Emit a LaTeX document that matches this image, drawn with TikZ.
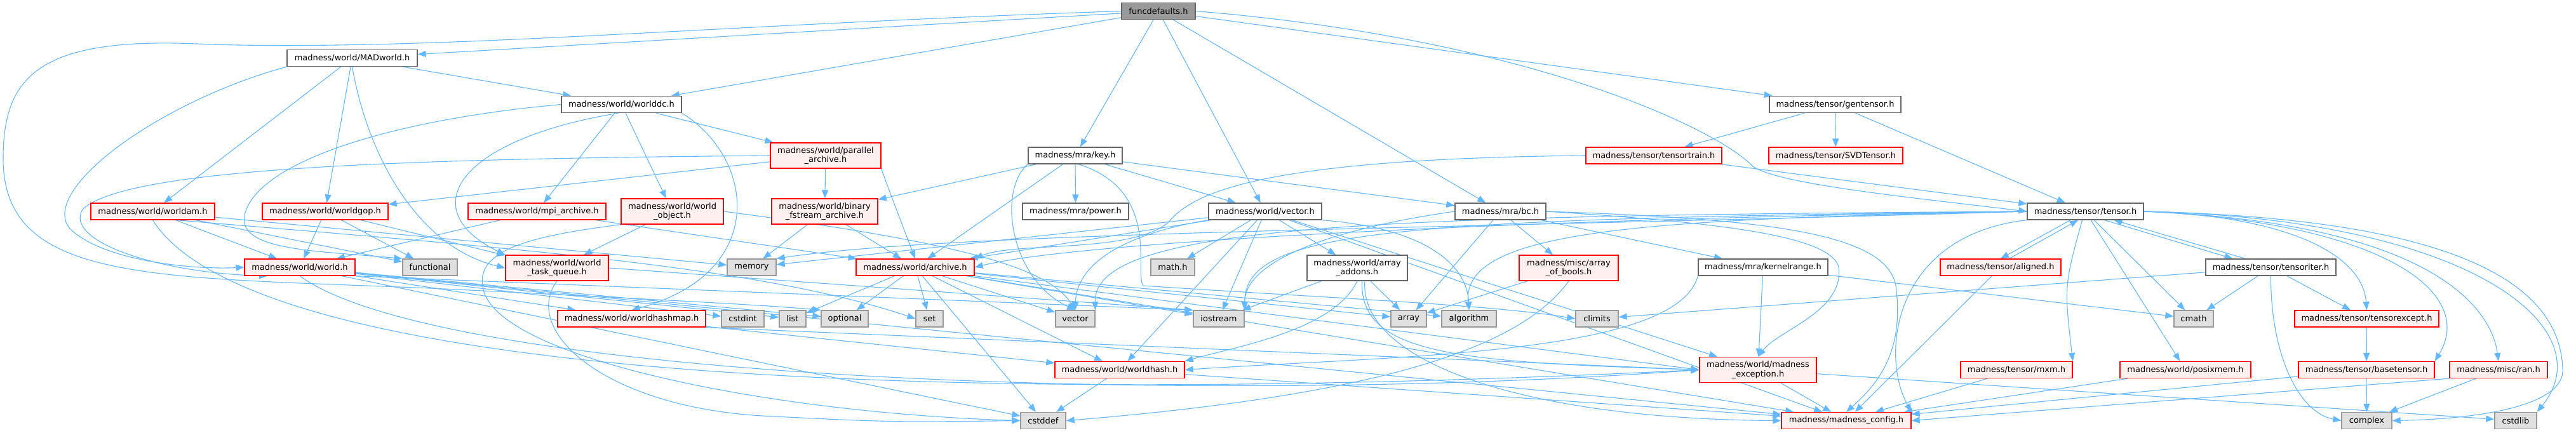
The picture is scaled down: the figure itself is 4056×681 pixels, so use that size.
\documentclass[tikz,border=0pt]{standalone}
\usepackage{fontspec}
\setmainfont{DejaVu Sans}
\usepackage{tikz}
\usetikzlibrary{arrows.meta,backgrounds}
\definecolor{EdgeBlue}{HTML}{63B8FF}
\definecolor{CurFill}{HTML}{999999}
\definecolor{CurLine}{HTML}{666666}
\definecolor{SysFill}{HTML}{E0E0E0}
\definecolor{SysLine}{HTML}{999999}
\definecolor{TruncFill}{HTML}{FFF0F0}
\definecolor{TruncLine}{HTML}{FF0000}

\begin{document}
\begin{tikzpicture}[x=1pt, y=-1pt,
  box/.style={draw, line width=1.3pt, minimum height=26, inner sep=0pt,
    align=center, font=\fontsize{13}{14.5}\selectfont},
  cur/.style={box, fill=CurFill, draw=CurLine},
  inc/.style={box, fill=white, draw=CurLine},
  trunc/.style={box, fill=TruncFill, draw=TruncLine},
  sys/.style={box, fill=SysFill, draw=SysLine},
  tall/.style={minimum height=40},
  dep/.style={draw=EdgeBlue, line width=1.1pt, -{Triangle[length=13pt,width=10pt]}}]

\useasboundingbox (0,0) rectangle (4056,681);

% top file
\node[cur, minimum width=116] (fd) at (1824,17.5) {funcdefaults.h};

% madness/world
\node[inc, minimum width=205] (madw) at (554.5,91.5) {madness/world/MADworld.h};
\node[inc, minimum width=189] (wdc) at (978.5,164.5) {madness/world/worlddc.h};
\node[trunc, minimum width=195] (wam) at (240.5,333) {madness/world/worldam.h};
\node[trunc, minimum width=198] (wgop) at (512,333) {madness/world/worldgop.h};
\node[trunc, minimum width=217] (mpia) at (845.5,333) {madness/world/mpi\_archive.h};
\node[trunc, tall, minimum width=161] (wobj) at (1058.5,333) {madness/world/world\\\_object.h};
\node[trunc, tall, minimum width=174] (para) at (1300,245) {madness/world/parallel\\\_archive.h};
\node[trunc, tall, minimum width=167] (binfs) at (1298.5,333) {madness/world/binary\\\_fstream\_archive.h};
\node[trunc, minimum width=174] (wld) at (472,421) {madness/world/world.h};
\node[trunc, tall, minimum width=162] (tq) at (877,422) {madness/world/world\\\_task\_queue.h};
\node[trunc, minimum width=186] (arch) at (1441,421) {madness/world/archive.h};
\node[trunc, minimum width=233] (hmap) at (994.5,502) {madness/world/worldhashmap.h};
\node[trunc, minimum width=204] (whash) at (1763,582.5) {madness/world/worldhash.h};
\node[trunc, tall, minimum width=184] (mexc) at (2768,582.5) {madness/world/madness\\\_exception.h};
\node[trunc, minimum width=204] (mcfg) at (2907,662.5) {madness/madness\_config.h};
\node[inc, minimum width=178] (vec) at (1992,333) {madness/world/vector.h};
\node[inc, tall, minimum width=158] (aadd) at (2137,422) {madness/world/array\\\_addons.h};
\node[trunc, minimum width=206] (posix) at (3441,582.5) {madness/world/posixmem.h};

% madness/mra and misc
\node[inc, minimum width=148] (key) at (1693,245) {madness/mra/key.h};
\node[inc, minimum width=167] (power) at (1693.5,333) {madness/mra/power.h};
\node[inc, minimum width=143] (bc) at (2362.5,333) {madness/mra/bc.h};
\node[inc, minimum width=204] (krange) at (2776,421) {madness/mra/kernelrange.h};
\node[trunc, tall, minimum width=156] (aob) at (2470,422) {madness/misc/array\\\_of\_bools.h};
\node[trunc, minimum width=154] (ran) at (3934,582.5) {madness/misc/ran.h};

% madness/tensor
\node[inc, minimum width=207] (gent) at (2889.5,164.5) {madness/tensor/gentensor.h};
\node[trunc, minimum width=214] (ttrain) at (2604,245) {madness/tensor/tensortrain.h};
\node[trunc, minimum width=211] (svd) at (2890.5,245) {madness/tensor/SVDTensor.h};
\node[inc, minimum width=183] (tensor) at (3283.5,333) {madness/tensor/tensor.h};
\node[trunc, minimum width=190] (align) at (3150,421) {madness/tensor/aligned.h};
\node[trunc, minimum width=176] (mxm) at (3175,582.5) {madness/tensor/mxm.h};
\node[inc, minimum width=205] (titer) at (3575.5,421) {madness/tensor/tensoriter.h};
\node[trunc, minimum width=227] (texc) at (3726.5,502) {madness/tensor/tensorexcept.h};
\node[trunc, minimum width=214] (btensor) at (3726,582.5) {madness/tensor/basetensor.h};

% system headers
\node[sys, minimum width=86] (func) at (677,421) {functional};
\node[sys, minimum width=77] (mem) at (1183.5,421) {memory};
\node[sys, minimum width=67] (cstdint) at (1169.5,502) {cstdint};
\node[sys, minimum width=42] (list) at (1248,502) {list};
\node[sys, minimum width=74] (opt) at (1330,502) {optional};
\node[sys, minimum width=43] (set) at (1463.5,502) {set};
\node[sys, minimum width=69] (math) at (1846.5,421) {math.h};
\node[sys, minimum width=62] (stdvec) at (1693,502) {vector};
\node[sys, minimum width=80] (iostr) at (1919,502) {iostream};
\node[sys, minimum width=56] (arr) at (2218,502) {array};
\node[sys, minimum width=86] (algo) at (2313,502) {algorithm};
\node[sys, minimum width=71] (cstddef) at (1642.5,662.5) {cstddef};
\node[sys, minimum width=67] (climits) at (2514.5,502) {climits};
\node[sys, minimum width=62] (cmath) at (3454,502) {cmath};
\node[sys, minimum width=79] (complex) at (3726.5,662.5) {complex};
\node[sys, minimum width=66] (cstdlib) at (3961,662.5) {cstdlib};

\begin{scope}[on background layer]
\fill[white] (0,0) rectangle (4056,681);

% straight includes
\foreach \s/\t in {fd/madw, fd/wdc, fd/key, fd/vec, fd/bc, fd/gent,
  madw/wam, madw/wgop, madw/wdc,
  wdc/mpia, wdc/wobj, wdc/para,
  wam/wld, wam/func, wam/mem,
  wgop/wld, wgop/func, wgop/tq,
  mpia/wld, mpia/arch, wobj/tq,
  para/wgop, para/binfs, binfs/mem, binfs/arch,
  wld/hmap, wld/cstdint, wld/list, wld/opt, wld/cstddef, wld/mcfg,
  hmap/whash,
  arch/list, arch/opt, arch/set, arch/cstddef, arch/stdvec, arch/arr,
  arch/algo, arch/iostr, arch/whash, arch/mcfg,
  key/power, key/vec, key/bc, key/binfs, key/arch,
  vec/math, vec/iostr, vec/aadd, vec/whash, vec/mem, vec/arch, vec/mexc, vec/mcfg,
  bc/arr, bc/aob, bc/krange,
  aadd/iostr, aadd/arr, aob/arr,
  gent/ttrain, gent/svd, gent/tensor, ttrain/tensor,
  krange/mexc, krange/cmath,
  mexc/mcfg, mexc/cstdlib, whash/cstddef, whash/mcfg,
  tensor/cmath, tensor/posix,
  titer/cmath, titer/texc, titer/climits,
  align/mcfg, mxm/mcfg, posix/mcfg, btensor/mcfg,
  btensor/complex, ran/complex, texc/btensor}
  \draw[dep] (\s) -- (\t);

% routed around other boxes
\draw[dep] (fd.west) .. controls (1100,40) and (700,80) .. (330,70)
  .. controls (60,55) and (5,120) .. (5,250)
  .. controls (5,450) and (250,435) .. (700,455)
  .. controls (1000,470) and (1200,480) .. (opt.north west);
\draw[dep] (fd.east) .. controls (2400,60) and (2700,200) .. (2760,262)
  .. controls (2800,290) and (3000,310) .. (tensor.west);
\draw[dep] (madw.south west) .. controls (250,160) and (60,300) .. (110,360)
  .. controls (160,410) and (300,425) .. (wld.west);
\draw[dep] (madw.south) .. controls (580,250) and (660,390) .. (tq.west);
\draw[dep] (para.west) .. controls (700,250) and (200,260) .. (130,330)
  .. controls (100,380) and (250,430) .. (wld.195);
\draw[dep] (para.south east) .. controls (1400,300) .. (arch.north);
\draw[dep] (wdc.west) .. controls (600,190) and (400,260) .. (385,340)
  .. controls (375,395) and (500,395) .. (func.north west);
\draw[dep] (wdc.-110) .. controls (720,220) and (650,330) .. (tq.north west);
\draw[dep] (wdc.south east) .. controls (1190,250) and (1210,430) .. (hmap.north);
\draw[dep] (wam.south) .. controls (400,600) and (1500,640) .. (mexc.west);
\draw[dep] (wam.-20) .. controls (800,390) and (1200,420) .. (set.west);
\draw[dep] (wobj.south west) .. controls (850,370) and (750,390) .. (760,450)
  .. controls (770,560) and (1200,650) .. (cstddef.west);
\draw[dep] (wobj.east) .. controls (1500,380) and (1650,420) .. (stdvec.north);
\draw[dep] (tq.south) .. controls (820,520) and (950,640) .. (1200,655)
  .. controls (1400,665) .. (cstddef.west);
\draw[dep] (tq.east) -- (iostr.north west);
\draw[dep] (wld.south east) -- (iostr.north west);
\draw[dep] (wld.south) .. controls (700,600) and (1900,640) .. (mexc.west);
\draw[dep] (hmap.south east) -- (mexc.west);
\draw[dep] (arch.south east) -- (mexc.west);
\draw[dep] (key.south west) .. controls (1570,300) and (1590,440) .. (stdvec.north);
\draw[dep] (key.-70) .. controls (1830,300) and (1785,430) .. (1800,450)
  .. controls (2100,470) and (2350,480) .. (climits.west);
\draw[dep] (vec.south west) .. controls (1760,370) and (1695,420) .. (stdvec.north);
\draw[dep] (vec.south east) .. controls (2250,360) and (2310,420) .. (algo.north);
\draw[dep] (bc.west) .. controls (2100,360) and (1960,410) .. (iostr.north east);
\draw[dep] (bc.east) .. controls (2700,350) and (2880,370) .. (2895,420)
  .. controls (2905,490) and (2800,520) .. (mexc.north);
\draw[dep] (bc.east) .. controls (2800,345) and (2970,370) .. (2985,450)
  .. controls (3000,560) and (2950,610) .. (mcfg.north);
\draw[dep] (aadd.south) .. controls (2100,520) and (1950,545) .. (whash.north east);
\draw[dep] (aadd.-60) .. controls (2140,570) and (2400,660) .. (mcfg.west);
\draw[dep] (aadd.-70) .. controls (2140,560) and (2300,570) .. (mexc.west);
\draw[dep] (aob.south) .. controls (2400,540) and (2200,620) .. (cstddef.east);
\draw[dep] (ttrain.west) .. controls (2000,250) and (1880,300) .. (1840,350)
  .. controls (1780,400) and (1600,380) .. (arch.north east);
\draw[dep] (krange.south west) .. controls (2640,560) and (2200,560) .. (whash.east);

% tensor.h fan-out
\draw[dep] (tensor.west) .. controls (2400,345) and (1700,380) .. (arch.east);
\draw[dep] (tensor.west) .. controls (2300,360) and (1500,365) .. (mem.north east);
\draw[dep] (tensor.west) .. controls (2200,345) and (1960,360) .. (iostr.north east);
\draw[dep] (tensor.west) .. controls (2200,340) and (1720,350) .. (stdvec.north east);
\draw[dep] (tensor.west) .. controls (2600,345) and (2300,360) .. (algo.north);
\draw[dep] (tensor.south west) .. controls (2980,370) and (2960,560) .. (mcfg.north east);
\draw[dep] (tensor.-110) .. controls (3250,450) .. (mxm.north east);
\draw[dep] (tensor.-150) -- (align.north);
\draw[dep] (align.45) -- (tensor.-130);
\draw[dep] ([xshift=30]tensor.south) -- ([xshift=-60]titer.north);
\draw[dep] ([xshift=-40]titer.north) -- ([xshift=45]tensor.south);
\draw[dep] (tensor.east) .. controls (3600,340) and (3720,400) .. (texc.north);
\draw[dep] (tensor.east) .. controls (3750,350) and (3900,460) .. (btensor.north east);
\draw[dep] (tensor.east) .. controls (3800,350) and (3920,470) .. (ran.north);
\draw[dep] (tensor.east) .. controls (3900,345) and (4100,520) .. (cstdlib.north east);
\draw[dep] (tensor.east) .. controls (3900,345) and (4030,460) .. (4035,580)
  .. controls (4040,640) and (3900,660) .. (complex.east);
\draw[dep] (titer.south) .. controls (3575,560) and (3620,650) .. (complex.west);
\draw[dep] (ran.south west) -- (mcfg.east);
\end{scope}
\end{tikzpicture}
\end{document}
